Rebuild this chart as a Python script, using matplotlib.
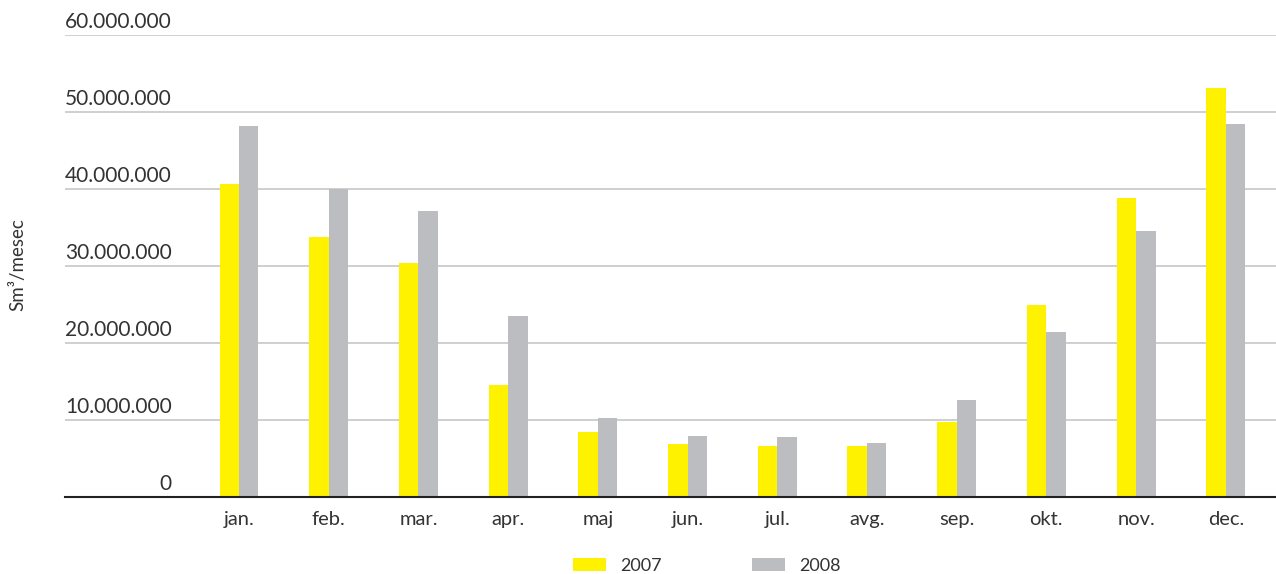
import matplotlib
matplotlib.use("Agg")
import matplotlib.pyplot as plt
import matplotlib.transforms as mtransforms
import numpy as np

months = ["jan.", "feb.", "mar.", "apr.", "maj", "jun.", "jul.", "avg.", "sep.", "okt.", "nov.", "dec."]
v2007 = [40.6e6, 33.8e6, 30.4e6, 14.5e6, 8.4e6, 6.9e6, 6.6e6, 6.6e6, 9.7e6, 24.9e6, 38.8e6, 53.1e6]
v2008 = [48.2e6, 40.0e6, 37.1e6, 23.5e6, 10.3e6, 7.9e6, 7.8e6, 7.0e6, 12.6e6, 21.4e6, 34.5e6, 48.4e6]
yticks = [0, 10e6, 20e6, 30e6, 40e6, 50e6, 60e6]
ytick_labels = ["0", "10.000.000", "20.000.000", "30.000.000", "40.000.000", "50.000.000", "60.000.000"]
series_names = ["2007", "2008"]
colors = ["#FFF200", "#BCBDC1"]

plt.rcParams['font.family'] = ['Lato', 'DejaVu Sans']
fig = plt.figure(figsize=(12.76, 5.74), dpi=100)
ax = fig.add_axes([65/1276, 1-497/574, 1-65/1276, (497-35)/574])

x = np.arange(len(months))
w = 0.217
ax.bar(x - w/2, v2007, width=w, color=colors[0], label=series_names[0], zorder=3)
ax.bar(x + w/2, v2008, width=w, color=colors[1], label=series_names[1], zorder=3)

ax.set_xlim(-1.94, 11.56)
ax.set_ylim(0, 60e6)
ax.set_yticks(yticks)
ax.set_yticklabels([])
ax.tick_params(axis='y', length=0)
ax.grid(axis='y', color='#cccccc', linewidth=1.3, zorder=0)
ax.set_xticks(x)
ax.set_xticklabels(months, fontsize=14.5, color='#333333')
ax.tick_params(axis='x', length=0, pad=10)

for s in ['top', 'right', 'left']:
    ax.spines[s].set_visible(False)
ax.spines['bottom'].set_color('#222222')
ax.spines['bottom'].set_linewidth(1.5)
ax.spines['bottom'].set_zorder(4)

trans = mtransforms.blended_transform_factory(ax.transAxes, ax.transData)
trans = mtransforms.offset_copy(trans, fig=fig, x=0, y=3, units='dots')
for v, lab in zip(yticks, ytick_labels):
    ax.text(107/1211, v, lab, transform=trans, ha='right', va='bottom',
            fontsize=15, color='#333333')

fig.text(18/1276, 1-265/574, "Sm³/mesec", rotation=90, ha='center', va='center',
         fontsize=13.5, color='#333333')

fig.legend(loc='center', bbox_to_anchor=(707/1276, 1-566/574), ncol=2, frameon=False,
           fontsize=13, handlelength=1.8, handleheight=0.75, handletextpad=0.8,
           columnspacing=5.0, labelcolor='#333333')

fig.savefig("out.png", dpi=100)
